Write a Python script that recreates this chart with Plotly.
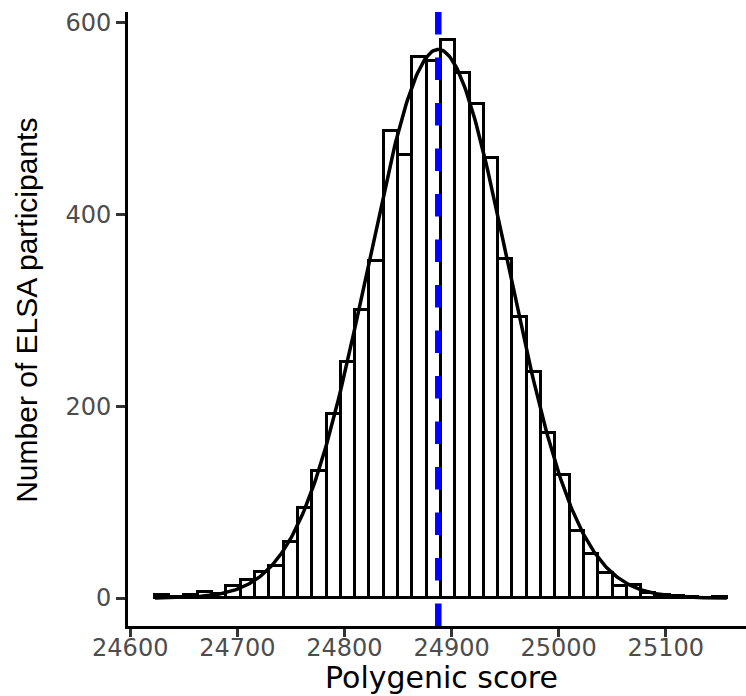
import numpy as np
import plotly.graph_objects as go

# ---- data ----
bin_start = 24623.1          # left edge of first bin (polygenic score)
bin_width = 13.35            # histogram bin width
counts = [3, 1, 3, 6, 4, 13, 19, 27, 33, 59,
          94, 132, 192, 246, 300, 352, 487, 462, 564, 560,
          582, 548, 515, 459, 354, 293, 236, 172, 128, 70,
          46, 26, 13, 14, 5, 3, 2, 1, 0, 1]
score_mean = 24887.6         # mean polygenic score (blue dashed line)
score_sd = 65.4              # sd of the fitted normal curve
x_ticks = [24600, 24700, 24800, 24900, 25000, 25100]
y_ticks = [0, 200, 400, 600]
x_title = "Polygenic score"
y_title = "Number of ELSA participants"

n_participants = sum(counts)
centers = [bin_start + bin_width * (i + 0.5) for i in range(len(counts))]
bin_end = bin_start + bin_width * len(counts)

# fitted normal density scaled to counts
xs = np.linspace(bin_start, bin_end, 400)
ys = n_participants * bin_width / (score_sd * np.sqrt(2 * np.pi)) * np.exp(-0.5 * ((xs - score_mean) / score_sd) ** 2)

fig = go.Figure()
fig.add_trace(go.Bar(
    x=centers, y=counts, width=bin_width,
    marker=dict(color="white", line=dict(color="black", width=3)),
    hoverinfo="skip", showlegend=False))
fig.add_trace(go.Scatter(
    x=xs, y=ys, mode="lines",
    line=dict(color="black", width=3.5), showlegend=False, hoverinfo="skip"))

fig.add_shape(type="line", xref="x", yref="paper",
              x0=score_mean, x1=score_mean, y0=0, y1=1,
              line=dict(color="#0000FF", width=6.5, dash="22.5px,23px"),
              layer="above")

W, H = 746, 696
L, R, T, B = 128, 0, 12, 70
pw, ph = W - L - R, H - T - B

def px_x(p):
    return (p - L) / pw

def px_y(p):
    return (H - B - p) / ph

tick_font = dict(family="DejaVu Sans", size=24, color="#4D4D4D")

fig.update_layout(
    width=W, height=H,
    margin=dict(l=L, r=R, t=T, b=B, pad=0),
    paper_bgcolor="white", plot_bgcolor="white",
    bargap=0,
    xaxis=dict(range=[24597.9, 25174.9], tickvals=x_ticks,
               ticktext=[str(v) for v in x_ticks],
               showgrid=False, zeroline=False,
               showline=True, linecolor="black", linewidth=3,
               ticks="outside", ticklen=8, tickwidth=2.5, tickcolor="#333333",
               ticklabelstandoff=-10,
               tickfont=tick_font),
    yaxis=dict(range=[-29.1, 611.1], tickvals=y_ticks,
               ticktext=[str(v) for v in y_ticks],
               showgrid=False, zeroline=False,
               showline=True, linecolor="black", linewidth=3,
               ticks="outside", ticklen=9, tickwidth=2.5, tickcolor="#333333",
               tickfont=tick_font),
    annotations=[
        dict(text=x_title, xref="paper", yref="paper",
             x=px_x(441.5), y=px_y(677.5), xanchor="center", yanchor="middle",
             showarrow=False,
             font=dict(family="DejaVu Sans", size=30, color="black")),
        dict(text=y_title, xref="paper", yref="paper",
             x=px_x(26.3), y=px_y(310.5), xanchor="center", yanchor="middle",
             textangle=-90, showarrow=False,
             font=dict(family="Liberation Sans", size=30, color="black")),
    ],
)

fig.write_html("out.html")
